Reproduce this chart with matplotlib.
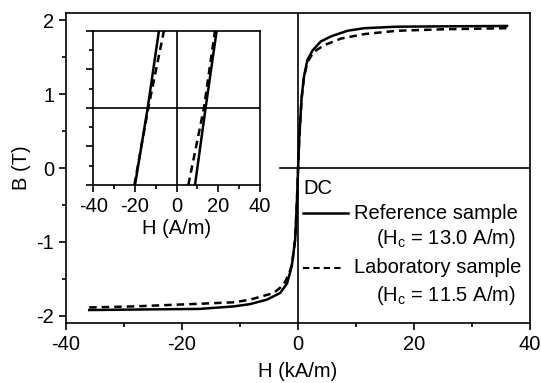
import matplotlib
matplotlib.use("Agg")
import matplotlib.pyplot as plt
from matplotlib.ticker import MultipleLocator

plt.rcParams['font.family'] = ['Liberation Sans', 'DejaVu Sans']
plt.rcParams['mathtext.fontset'] = 'custom'
plt.rcParams['mathtext.rm'] = 'Liberation Sans'
plt.rcParams['axes.unicode_minus'] = False

# main loop, H in kA/m, B in T
ref_H = [-36, -30, -24, -17, -11, -8.3, -5.4, -3.1, -1.9, -1.1, -0.5, -0.2, 0,
         0.2, 0.6, 1.0, 1.6, 2.5, 3.9, 5.7, 8.5, 11.4, 17, 25, 36]
ref_B = [-1.92, -1.915, -1.91, -1.905, -1.87, -1.84, -1.78, -1.69, -1.56, -1.33, -0.97, -0.45, 0,
         0.4, 0.95, 1.23, 1.46, 1.59, 1.71, 1.78, 1.855, 1.89, 1.91, 1.915, 1.92]
lab_H = [-36, -28, -17, -11, -8.3, -4.2, -2.5, -1.5, -1.0, -0.5, -0.2, 0,
         0.2, 0.6, 1.0, 1.6, 2.7, 4.5, 7.4, 11.4, 17, 25, 36]
lab_B = [-1.885, -1.87, -1.835, -1.815, -1.78, -1.69, -1.58, -1.42, -1.28, -0.95, -0.45, 0,
         0.4, 0.93, 1.22, 1.43, 1.57, 1.66, 1.75, 1.81, 1.855, 1.875, 1.89]

# inset, H in A/m (both branches near the coercive field)
ref_in_left_H = [-20.0, -13.9, -8.5]
ref_in_right_H = [8.8, 13.9, 19.2]
lab_in_left_H = [-20.3, -13.6, -6.1]
lab_in_right_H = [5.6, 13.1, 18.4]
in_B = [-1, 0, 1]

fig = plt.figure(figsize=(5.41, 3.83), dpi=100)
ax = fig.add_axes([0.122, 0.1567, 0.858, 0.8093])
fs = 14.5

ax.plot(ref_H, ref_B, color='black', lw=1.8, zorder=3)
ax.plot(lab_H, lab_B, color='black', lw=1.8, dashes=(3, 2), zorder=3)
ax.axvline(0, color='black', lw=1.2)
ax.plot([-3.1, 40], [0, 0], color='black', lw=1.2)

ax.set_xlim(-40, 40)
ax.set_ylim(-2.095, 2.095)
ax.xaxis.set_major_locator(MultipleLocator(20))
ax.xaxis.set_minor_locator(MultipleLocator(10))
ax.yaxis.set_major_locator(MultipleLocator(1))
ax.yaxis.set_minor_locator(MultipleLocator(0.5))
ax.tick_params(which='both', direction='out', labelsize=fs, width=1.2)
ax.tick_params(which='major', length=5)
ax.tick_params(which='minor', length=3)
for s in ax.spines.values():
    s.set_linewidth(1.2)
ax.set_xlabel('H (kA/m)', fontsize=fs, labelpad=6)
ax.set_ylabel('B (T)', fontsize=fs, labelpad=4)

# legend drawn by hand
ax.text(0.86, -0.28, 'DC', fontsize=fs, va='center', ha='left')
ax.plot([0.86, 8.6], [-0.61, -0.61], color='black', lw=1.8)
ax.text(9.65, -0.61, 'Reference sample', fontsize=fs, va='center', ha='left')
ax.text(13.4, -0.95, r'(H$_\mathregular{c}$ = 13.0 A/m)', fontsize=fs, va='center', ha='left')
ax.plot([0.86, 7.8], [-1.35, -1.35], color='black', lw=1.5, dashes=(3, 2))
ax.text(9.65, -1.35, 'Laboratory sample', fontsize=fs, va='center', ha='left')
ax.text(13.4, -1.72, r'(H$_\mathregular{c}$ = 11.5 A/m)', fontsize=fs, va='center', ha='left')

# inset
ins = fig.add_axes([0.1725, 0.517, 0.3081, 0.403])
ins.plot(ref_in_left_H, in_B, color='black', lw=1.8)
ins.plot(ref_in_right_H, in_B, color='black', lw=1.8)
ins.plot(lab_in_left_H, in_B, color='black', lw=1.8, dashes=(3, 2))
ins.plot(lab_in_right_H, in_B, color='black', lw=1.8, dashes=(3, 2))
ins.axvline(0, color='black', lw=1.2)
ins.axhline(0, color='black', lw=1.2)
ins.set_xlim(-40, 40)
ins.set_ylim(-1, 1)
ins.xaxis.set_major_locator(MultipleLocator(20))
ins.xaxis.set_minor_locator(MultipleLocator(10))
ins.yaxis.set_major_locator(MultipleLocator(0.5))
ins.yaxis.set_minor_locator(MultipleLocator(0.25))
ins.tick_params(which='both', direction='out', labelsize=fs, width=1.2, labelleft=False)
ins.tick_params(which='major', length=5)
ins.tick_params(which='minor', length=3)
for s in ins.spines.values():
    s.set_linewidth(1.2)
ins.set_xlabel('H (A/m)', fontsize=fs, labelpad=2)

fig.savefig('out.png', dpi=100)
